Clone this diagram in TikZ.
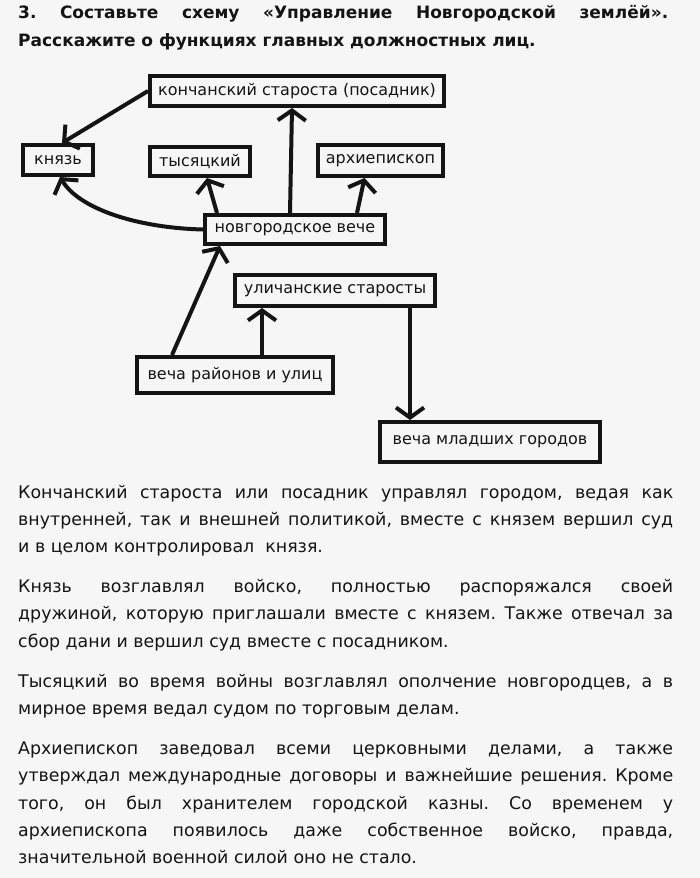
\documentclass[tikz,border=0pt]{standalone}
\usepackage{fontspec}
\setmainfont{DejaVu Sans}
\newfontfamily\diagfont{DejaVu Sans}
\usetikzlibrary{arrows.meta}
\definecolor{bgcol}{RGB}{246,246,246}
\definecolor{ink}{RGB}{20,20,20}
\frenchspacing
\begin{document}
\frenchspacing
\begin{tikzpicture}[x=1pt,y=-1pt,
  box/.style={draw=ink, line width=4pt, inner sep=0pt, text=ink,
    font=\diagfont\fontsize{16}{18}\selectfont},
  arr/.style={draw=ink, line width=4pt, -{Straight Barb[length=10pt,width=28pt]}},
  bodyline/.style={anchor=base west, inner sep=0pt, text=ink,
    font=\frenchspacing\fontsize{17.4}{20}\selectfont},
  headline/.style={anchor=base west, inner sep=0pt, text=ink,
    font=\frenchspacing\bfseries\fontsize{17}{20}\selectfont}]
\fill[bgcol] (0,0) rectangle (700,878);
\useasboundingbox (0,0) rectangle (700,878);

% header
\node[headline] (h1) at (18,19) {\makebox[650pt][s]{3. Составьте схему «Управление Новгородской землёй».}};
\node[headline] (h2) at (18,46) {Расскажите о функциях главных должностных лиц.};

% diagram boxes
\node[box, minimum width=294pt, minimum height=30pt] (posad) at (297,91) {кончанский староста (посадник)};
\node[box, minimum width=70pt, minimum height=30pt] (knyaz) at (58,160) {князь};
\node[box, minimum width=100pt, minimum height=29pt] (tys) at (200,161.5) {тысяцкий};
\node[box, minimum width=125pt, minimum height=31pt] (arch) at (380.5,160.5) {архиепископ};
\node[box, minimum width=180pt, minimum height=29pt] (veche) at (295,229.5) {новгородское вече};
\node[box, minimum width=200pt, minimum height=31pt] (ulich) at (335,290.5) {уличанские старосты};
\node[box, minimum width=196pt, minimum height=36pt] (rayon) at (235,375) {веча районов и улиц};
\node[box, minimum width=220pt, minimum height=40pt] (mlad) at (490,442) {веча младших городов};

% connectors
\draw[arr] (posad.west) -- ([xshift=4pt]knyaz.north);
\draw[arr] (veche.west) .. controls (140,228) and (80,210) .. ([xshift=2pt]knyaz.south);
\draw[arr] ([xshift=-78pt]veche.north) -- ([xshift=7pt]tys.south);
\draw[arr] ([xshift=-5pt]veche.north) -- ([xshift=-5pt]posad.south);
\draw[arr] ([xshift=62pt]veche.north) -- ([xshift=-16pt]arch.south);
\draw[arr] ([xshift=-63pt]rayon.north) -- ([xshift=-75pt]veche.south);
\draw[arr] ([xshift=27pt]rayon.north) -- ([xshift=-73pt]ulich.south);
\draw[arr] ([xshift=75pt]ulich.south) -- ([xshift=-80pt]mlad.north);

% body text
\node[bodyline] (p1a) at (18,498) {\makebox[655pt][s]{Кончанский староста или посадник управлял городом, ведая как}};
\node[bodyline] (p1b) at (18,525.3) {\makebox[655pt][s]{внутренней, так и внешней политикой, вместе с князем вершил суд}};
\node[bodyline] (p1c) at (18,552.6) {и в целом контролировал\ \ князя.};

\node[bodyline] (p2a) at (18,592.6) {\makebox[655pt][s]{Князь возглавлял войско, полностью распоряжался своей}};
\node[bodyline] (p2b) at (18,619.9) {\makebox[655pt][s]{дружиной, которую приглашали вместе с князем. Также отвечал за}};
\node[bodyline] (p2c) at (18,647.2) {сбор дани и вершил суд вместе с посадником.};

\node[bodyline] (p3a) at (18,687.2) {\makebox[655pt][s]{Тысяцкий во время войны возглавлял ополчение новгородцев, а в}};
\node[bodyline] (p3b) at (18,714.5) {мирное время ведал судом по торговым делам.};

\node[bodyline] (p4a) at (18,754.5) {\makebox[655pt][s]{Архиепископ заведовал всеми церковными делами, а также}};
\node[bodyline] (p4b) at (18,781.8) {\makebox[655pt][s]{утверждал международные договоры и важнейшие решения. Кроме}};
\node[bodyline] (p4c) at (18,809.1) {\makebox[655pt][s]{того, он был хранителем городской казны. Со временем у}};
\node[bodyline] (p4d) at (18,836.4) {\makebox[655pt][s]{архиепископа появилось даже собственное войско, правда,}};
\node[bodyline] (p4e) at (18,863.7) {значительной военной силой оно не стало.};
\end{tikzpicture}
\end{document}
